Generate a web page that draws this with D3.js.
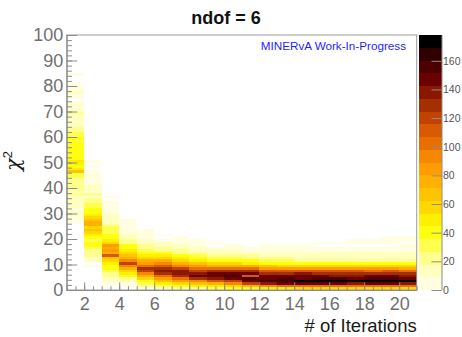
<!DOCTYPE html>
<meta charset="utf-8">
<style>
body { margin: 0; background: #fff; }
* { font-family: "Liberation Sans", Arial, sans-serif; }
.axis text { fill: #707070; font-size: 18px; }
.axis path, .axis line { stroke: #8c8c8c; }
.zaxis text { fill: #555; font-size: 10.5px; }
.zaxis path, .zaxis line { stroke: #8c8c8c; }
</style>
<body>
<script src="https://d3js.org/d3.v7.min.js"></script>
<script>
// iteration number of each column
var iterations = [1, 2, 3, 4, 5, 6, 7, 8, 9, 10, 11, 12, 13, 14, 15, 16, 17, 18, 19, 20];

// lowest chi2 bin filled in each column (bins are 1 wide)
var binStart = [26, 9, 2, 1, 0, 0, 0, 0, 0, 0, 0, 0, 0, 0, 0, 0, 0, 0, 0, 0];

// entries per chi2 bin, starting at binStart
var counts = [
  [6,8,5,9, 12,8,14,10,14, 16,14,20,16,18,22,18,24,22,28, 34,66,46,44,50,48,44,40,
   40,38,42,36,40,34,38,32,28, 18,24,12,14,10,12, 9,18,10,7,9,5, 0,2, 7,9,5,7, 5,0,0,0,5],
  [5,0,12,14,18,20,24,30,36,40, 34,44,50,60,66,56,72,78,70,58, 48,42,40,30,28,20,24,16,18,8,
   10,12,6,8,4,6,2,3,0,5, 0,5],
  [6,10,14,18,26,32,36,42,50,58, 66,110,80,88,78,84,60,50,44,40, 34,28,30,20,16,14,10,12,6,8, 4,6,2,0,4],
  [4,8,16,26,38,50,62,78,96,120, 92,80,70,56,48,42,36,26,20,16, 12,8,6,4,6,3,2],
  [8,18,30,44,62,80,96,118,126,104, 86,74,60,50,40,32,24,18,12,10, 8,6,5,3],
  [14,30,48,66,84,102,128,138,132,110, 92,74,58,46,36,26,18,14,10,8, 0,4],
  [20,40,60,84,104,128,140,136,120,96, 78,60,46,36,26,20,14,10,8,6, 4],
  [24,46,70,96,128,146,140,124,104,82, 64,48,36,28,20,14,10,8,5,4],
  [28,52,80,110,140,150,144,126,100,78, 58,44,32,24,16,12,8,0,4],
  [36,60,90,124,150,156,146,126,100,76, 56,42,30,22,16,10,8,4],
  [42,78,120,150,158,110,150,128,98,72, 52,38,26,18,12,8,4],
  [48,96,140,152,150,146,132,112,88,64, 44,30,20,14,10,8,6,4],
  [52,98,144,156,152,146,132,110,86,62, 42,28,18,14,10,8,6,4],
  [56,100,146,174,150,144,134,112,84,58, 40,26,16,12,10,8,6,4],
  [58,100,144,176,152,144,132,110,84,58, 40,26,16,12,10,8,6,0,4],
  [60,102,146,178,152,142,132,108,84,56, 40,26,16,12,10,8,5,0,4],
  [58,98,142,174,150,142,130,108,82,56, 38,24,16,12,9,8,6,0,5,3],
  [62,104,146,176,152,144,130,106,82,54, 38,24,16,12,10,8,6,0,4,3],
  [60,100,144,175,154,146,132,108,84,56, 40,26,16,12,10,8,6,0,5,4,3],
  [58,98,140,174,150,140,128,104,80,54, 38,24,16,12,10,8,6,5,0,4,3]
];

var xTicks = [2, 4, 6, 8, 10, 12, 14, 16, 18, 20];
var yTicks = [0, 10, 20, 30, 40, 50, 60, 70, 80, 90, 100];
var zTicks = [0, 20, 40, 60, 80, 100, 120, 140, 160];

// 20-level inverted dark body radiator
var palette = ["#fffee0", "#ffffc0", "#ffff90", "#ffff50", "#ffff10", "#fff000", "#ffd800",
  "#ffc400", "#ffb000", "#ff9c00", "#f58800", "#e87000", "#d85a00", "#c04400", "#a43000",
  "#8a1800", "#6a0000", "#4c0000", "#300000", "#000000"];

var width = 462, height = 337;
var frame = {left: 66.7, right: 416.7, top: 35, bottom: 290};

var cells = [];
counts.forEach(function(col, i) {
  col.forEach(function(n, j) {
    if (n > 0) cells.push({iter: iterations[i], chi2: binStart[i] + j, n: n});
  });
});

var zmax = d3.max(cells, function(d) { return d.n; });

var x = d3.scaleLinear().domain([1, 21]).range([frame.left, frame.right]);
var y = d3.scaleLinear().domain([0, 100]).range([frame.bottom, frame.top]);
var z = d3.scaleLinear().domain([0, zmax]).range([frame.bottom, frame.top]);
var color = d3.scaleQuantize().domain([0, zmax]).range(palette);

var svg = d3.select("body").append("svg")
    .attr("width", width)
    .attr("height", height);

svg.append("g")
    .attr("shape-rendering", "crispEdges")
  .selectAll("rect")
    .data(cells)
  .enter().append("rect")
    .attr("x", function(d) { return x(d.iter); })
    .attr("y", function(d) { return y(d.chi2 + 1); })
    .attr("width", function(d) { return x(d.iter + 1) - x(d.iter); })
    .attr("height", function(d) { return y(d.chi2) - y(d.chi2 + 1); })
    .style("fill", function(d) { return color(d.n); });

// frame
svg.append("rect")
    .attr("x", frame.left)
    .attr("y", frame.top)
    .attr("width", frame.right - frame.left)
    .attr("height", frame.bottom - frame.top)
    .style("fill", "none")
    .style("stroke", "#9a9a9a");

// minor ticks
svg.append("g")
    .attr("class", "axis")
    .attr("transform", "translate(0," + frame.bottom + ")")
    .call(d3.axisBottom(x).tickValues(d3.range(1, 21.01, 0.5)).tickSize(-3.8).tickFormat(""))
    .select(".domain").remove();
svg.append("g")
    .attr("class", "axis")
    .attr("transform", "translate(" + frame.left + ",0)")
    .call(d3.axisLeft(y).tickValues(d3.range(0, 101, 2)).tickSize(-5.25).tickFormat(""))
    .select(".domain").remove();

// major ticks with labels
svg.append("g")
    .attr("class", "axis")
    .attr("transform", "translate(0," + frame.bottom + ")")
    .call(d3.axisBottom(x).tickValues(xTicks).tickSize(-7.6).tickPadding(7).tickSizeOuter(0));
svg.append("g")
    .attr("class", "axis")
    .attr("transform", "translate(" + frame.left + ",0)")
    .call(d3.axisLeft(y).tickValues(yTicks).tickSize(-10.5).tickPadding(3.5).tickSizeOuter(0));

// colour scale
var step = zmax / palette.length;
svg.append("g")
    .attr("shape-rendering", "crispEdges")
  .selectAll("rect")
    .data(palette)
  .enter().append("rect")
    .attr("x", 419)
    .attr("y", function(c, i) { return z((i + 1) * step); })
    .attr("width", 22.5)
    .attr("height", function(c, i) { return z(i * step) - z((i + 1) * step); })
    .style("fill", function(c) { return c; });

svg.append("g")
    .attr("class", "zaxis")
    .attr("transform", "translate(441.5,0)")
    .call(d3.axisRight(z).tickValues(zTicks).tickSize(-10).tickPadding(1.5).tickSizeOuter(0));

svg.append("text")
    .attr("x", 226)
    .attr("y", 24)
    .attr("text-anchor", "middle")
    .style("font-size", "18px")
    .style("font-weight", "bold")
    .style("fill", "#111")
    .text("ndof = 6");

svg.append("text")
    .attr("x", 406)
    .attr("y", 50)
    .attr("text-anchor", "end")
    .style("font-size", "11.7px")
    .style("fill", "#1f1fff")
    .text("MINERvA Work-In-Progress");

svg.append("text")
    .attr("x", frame.right)
    .attr("y", 332)
    .attr("text-anchor", "end")
    .style("font-size", "18.5px")
    .style("fill", "#1a1a1a")
    .text("# of Iterations");

var ytitle = svg.append("text")
    .attr("transform", "translate(20,161) rotate(-90)")
    .attr("text-anchor", "middle")
    .style("fill", "#1a1a1a");
ytitle.append("tspan")
    .style("font-family", "'DejaVu Serif', serif")
    .style("font-style", "italic")
    .style("font-size", "21px")
    .text("χ");
ytitle.append("tspan")
    .attr("dy", "-0.6em")
    .style("font-size", "13px")
    .text("2");
</script>
